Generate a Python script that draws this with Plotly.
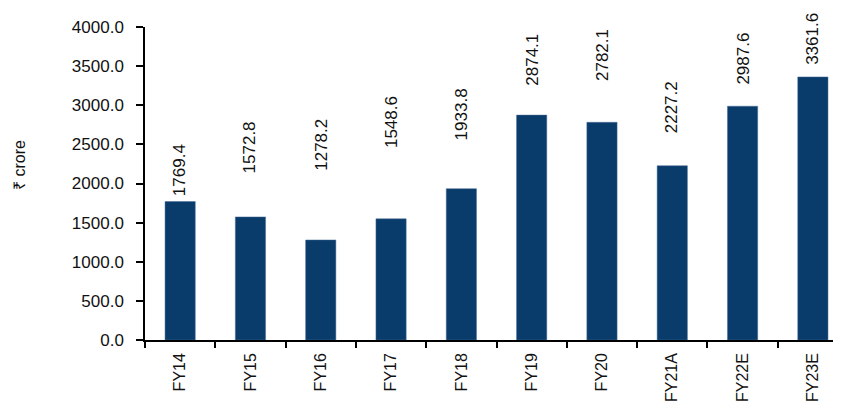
import plotly.graph_objects as go

categories = ["FY14", "FY15", "FY16", "FY17", "FY18", "FY19", "FY20", "FY21A", "FY22E", "FY23E"]
values = [1769.4, 1572.8, 1278.2, 1548.6, 1933.8, 2874.1, 2782.1, 2227.2, 2987.6, 3361.6]
label_y = [1815, 2109, 2134, 2428, 2530, 3220, 3284, 2620, 3233, 3489]
y_ticks = [0, 500, 1000, 1500, 2000, 2500, 3000, 3500, 4000]

FONT = "Liberation Sans, Arial, sans-serif"
BAR = "#093b6b"

# the page body adds an 8px offset; figure is sized to end at the window edge
OFF = 8
W, H = 841 - OFF, 408 - OFF
L, T, B = 145 - OFF, 27 - OFF, 68
PW, PH = W - L, H - T - B

fig = go.Figure()
fig.add_trace(go.Bar(x=categories, y=values, width=0.43,
                     marker=dict(color=BAR, line=dict(width=0.5, color="#4a6f96"))))

for c, v, ly in zip(categories, values, label_y):
    fig.add_annotation(x=c, y=ly, text=f"{v:.1f}", textangle=-90, showarrow=False,
                       xanchor="center", yanchor="bottom", xref="x", yref="y",
                       font=dict(family=FONT, size=17, color="#111111"))

fig.add_annotation(x=(20 - OFF - L) / PW, y=(H - B - (165 - OFF)) / PH, xref="paper", yref="paper",
                   text="₹ crore", textangle=-90, showarrow=False,
                   xanchor="center", yanchor="middle",
                   font=dict(family=FONT, size=16, color="#111111"))

fig.update_layout(
    width=W, height=H,
    margin=dict(l=L, r=0, t=T, b=B, autoexpand=False),
    plot_bgcolor="white", paper_bgcolor="white",
    showlegend=False,
    font=dict(family=FONT, size=16, color="#111111"),
)
fig.update_xaxes(range=[-0.5, 9.4], showline=True, linecolor="black", linewidth=1.5,
                 ticks="outside", ticklen=6, tickwidth=1.5, tickcolor="black", tickson="boundaries",
                 tickangle=-90, tickfont=dict(family=FONT, size=16), showgrid=False, automargin=False,
                 ticklabelstandoff=5)
fig.update_yaxes(range=[0, 4000], tickvals=y_ticks, ticktext=[f"{t:.1f}" for t in y_ticks],
                 showline=True, linecolor="black", linewidth=1.5,
                 ticks="outside", ticklen=7, tickwidth=1.5, tickcolor="black",
                 tickfont=dict(family=FONT, size=17), showgrid=False, zeroline=False, automargin=False,
                 ticklabelstandoff=9)

fig.write_html("out.html")
